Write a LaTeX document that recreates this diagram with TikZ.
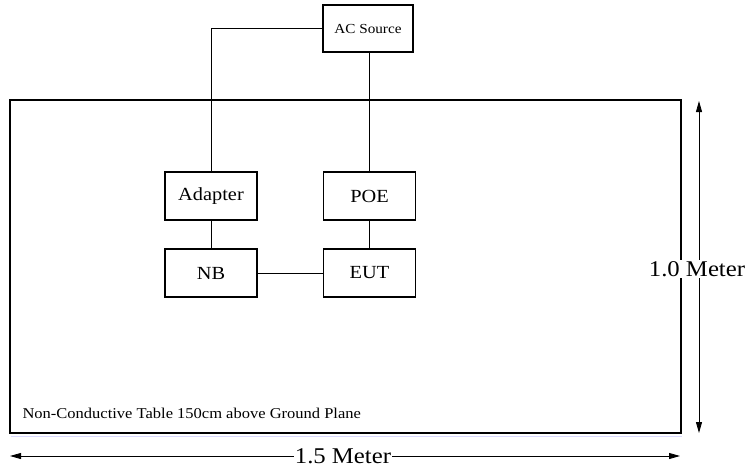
\documentclass[tikz,border=0pt]{standalone}
\usepackage{fontspec}
\setmainfont{Liberation Serif}[FakeStretch=1.1]
\usetikzlibrary{arrows.meta}
\begin{document}
\begin{tikzpicture}[x=1pt,y=-1pt,
  box/.style={draw,line width=1.2pt,minimum width=92pt,minimum height=48pt,inner sep=0pt,font=\fontsize{18.5}{20}\selectfont},
  wire/.style={line width=0.9pt},
  dim/.style={line width=0.8pt,{Triangle[length=11pt,width=6pt]}-{Triangle[length=11pt,width=6pt]}},
  dimlabel/.style={fill=white,inner sep=1pt,font=\fontsize{22.5}{24}\selectfont}]
\useasboundingbox (0,0) rectangle (752,467);
\draw[line width=0.8pt,draw=blue!15] (11,436) -- (682,436);
\draw[line width=2.6pt] (10,100) rectangle (681,433);
\node[box,minimum width=90pt,minimum height=47pt,font=\fontsize{13.8}{15}\selectfont] (ac) at (368,28.5) {AC Source};
\node[box] (adapter) at (211,196) {Adapter};
\node[box] (poe) at (369.5,196) {POE};
\node[box] (nb) at (211,273) {NB};
\node[box] (eut) at (369.5,273) {EUT};
\draw[wire] (ac.west) -| (adapter.north);
\draw[wire] (ac.south -| poe.north) -- (poe.north);
\draw[wire] (adapter) -- (nb);
\draw[wire] (poe) -- (eut);
\draw[wire] (nb) -- (eut);
\node[anchor=west,font=\fontsize{15}{17}\selectfont] (table) at (19,413) {Non-Conductive Table 150cm above Ground Plane};
\coordinate (vt) at (699,101);
\coordinate (vb) at (699,433);
\draw[dim] (vt) -- (vb);
\node[dimlabel] (vlab) at (697,269) {1.0 Meter};
\coordinate (hl) at (10,456);
\coordinate (hr) at (680,456);
\draw[dim] (hl) -- (hr);
\node[dimlabel] (hlab) at (343,456) {1.5 Meter};
\end{tikzpicture}
\end{document}
